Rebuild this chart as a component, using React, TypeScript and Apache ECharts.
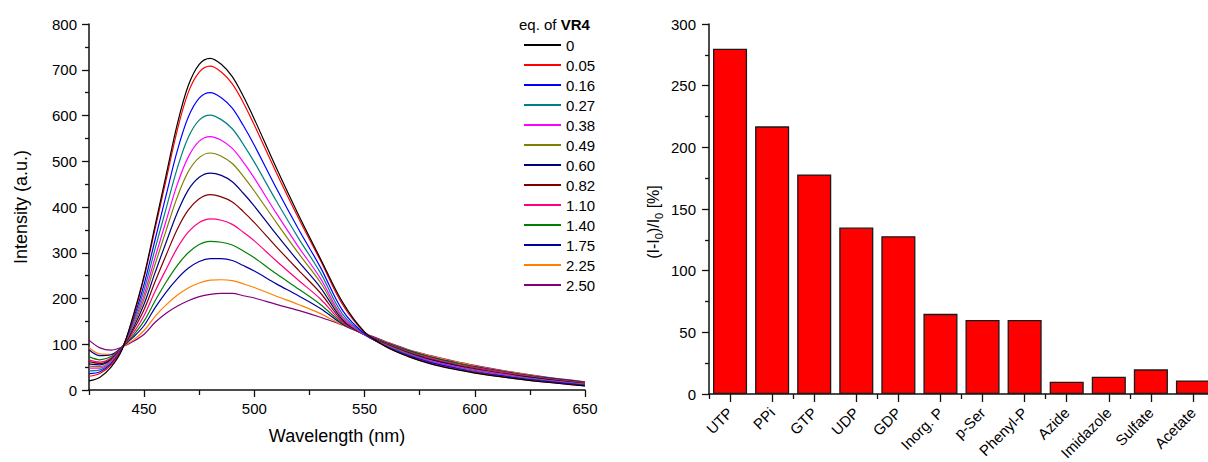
import React, { useEffect, useRef } from 'react';
import * as echarts from 'echarts';

// ---------- Left panel: emission spectra ----------
const wavelengths = [425, 430, 435, 440, 445, 450, 455, 460, 465, 470, 475, 480, 485, 490, 495, 500, 510, 520, 530, 540, 550, 560, 570, 580, 590, 600, 615, 630, 650];

const eq000 = [20, 28, 50, 88, 162, 250, 360, 470, 580, 665, 712, 725, 712, 685, 642, 592, 485, 383, 287, 192, 127, 94, 73, 57, 46, 37, 27, 18, 9];
const eq005 = [30, 36, 55, 90, 158, 246, 353, 460, 567, 650, 695, 708, 695, 669, 628, 579, 475, 376, 283, 187, 126, 94, 73, 58, 47, 38, 27, 18, 9];
const eq016 = [36, 40, 57, 91, 154, 231, 329, 426, 522, 596, 638, 650, 639, 616, 578, 535, 441, 352, 268, 174, 123, 95, 75, 60, 49, 39, 29, 20, 10];
const eq027 = [42, 44, 59, 91, 148, 219, 309, 397, 484, 552, 590, 601, 591, 571, 537, 498, 413, 332, 256, 166, 122, 96, 77, 61, 50, 41, 30, 21, 11];
const eq038 = [48, 48, 62, 92, 144, 208, 290, 370, 449, 509, 544, 554, 546, 528, 498, 463, 386, 313, 244, 160, 121, 97, 78, 63, 52, 43, 32, 22, 12];
const eq049 = [52, 51, 64, 92, 140, 199, 275, 349, 421, 477, 508, 518, 511, 495, 467, 435, 366, 299, 235, 157, 121, 98, 79, 64, 53, 44, 33, 23, 13];
const eq060 = [57, 55, 66, 93, 135, 188, 257, 323, 387, 437, 465, 474, 469, 455, 430, 402, 340, 281, 224, 154, 121, 99, 80, 66, 55, 45, 34, 24, 13];
const eq082 = [62, 58, 68, 93, 130, 176, 237, 295, 351, 393, 418, 427, 422, 411, 390, 366, 313, 262, 212, 151, 121, 100, 82, 67, 56, 47, 35, 25, 14];
const eq110 = [66, 61, 70, 93, 124, 163, 216, 264, 310, 345, 366, 374, 371, 362, 345, 326, 282, 240, 199, 148, 121, 101, 83, 69, 58, 49, 37, 26, 15];
const eq140 = [73, 66, 73, 94, 119, 151, 195, 236, 272, 300, 318, 325, 323, 317, 304, 289, 254, 221, 187, 146, 121, 102, 85, 71, 60, 50, 38, 27, 16];
const eq175 = [88, 75, 77, 94, 115, 141, 180, 214, 243, 266, 281, 287, 287, 283, 272, 260, 232, 206, 178, 144, 122, 103, 86, 72, 61, 51, 39, 28, 17];
const eq225 = [93, 79, 78, 94, 109, 130, 161, 186, 207, 223, 234, 240, 241, 239, 232, 224, 205, 187, 167, 142, 122, 104, 87, 74, 63, 53, 40, 29, 17];
const eq250 = [109, 92, 87, 94, 106, 122, 148, 168, 183, 195, 204, 209, 211, 211, 206, 201, 187, 174, 159, 142, 124, 105, 88, 75, 64, 54, 41, 30, 18];

const spectra = [eq000, eq005, eq016, eq027, eq038, eq049, eq060, eq082, eq110, eq140, eq175, eq225, eq250];
const spectraNames = ['0', '0.05', '0.16', '0.27', '0.38', '0.49', '0.60', '0.82', '1.10', '1.40', '1.75', '2.25', '2.50'];
const spectraColors = ['#000000', '#FF0000', '#0000FF', '#008080', '#FF00FF', '#808000', '#000080', '#800000', '#FF0080', '#008000', '#0000A0', '#FF8000', '#800080'];

const xMajorTicks = [450, 500, 550, 600, 650];
const xMinorTicks = [425, 475, 525, 575, 625];

// ---------- Right panel: selectivity bars ----------
const analytes = ['UTP', 'PPi', 'GTP', 'UDP', 'GDP', 'Inorg. P', 'p-Ser', 'Phenyl-P', 'Azide', 'Imidazole', 'Sulfate', 'Acetate'];
const responses = [280, 217, 178, 135, 128, 65, 60, 60, 10, 14, 20, 11];

const FONT = 'Liberation Sans, Arial, sans-serif';
const AX = '#111111';

export default function App() {
  const ref = useRef<HTMLDivElement>(null);

  useEffect(() => {
    if (!ref.current) return;
    const chart = echarts.init(ref.current, undefined, { renderer: 'svg' });

    const lineSeries = spectra.map((vals, i) => ({
      name: spectraNames[i],
      type: 'line',
      xAxisIndex: 0,
      yAxisIndex: 0,
      data: wavelengths.map((w, j) => [w, vals[j]]),
      symbol: 'none',
      smooth: 0.35,
      color: spectraColors[i],
      lineStyle: { width: 1.2, color: spectraColors[i] },
      z: 20 - i,
    }));

    const axisLine = { show: true, lineStyle: { color: AX, width: 1.5 } };

    chart.setOption({
      animation: false,
      textStyle: { fontFamily: FONT },
      grid: [
        { left: 89, top: 24, width: 496, height: 366, outerBoundsMode: 'none', containLabel: false },
        { left: 709, top: 24, width: 505, height: 370, outerBoundsMode: 'none', containLabel: false },
      ],
      graphic: [
        {
          type: 'text',
          left: 519,
          top: 17,
          style: {
            text: '{a|eq. of }{b|VR4}',
            rich: {
              a: { fontSize: 15, fontFamily: FONT, fill: '#000' },
              b: { fontSize: 15, fontFamily: FONT, fontWeight: 'bold', fill: '#000' },
            },
          },
        },
        {
          type: 'text',
          x: 651,
          y: 222,
          rotation: Math.PI / 2,
          style: {
            text: '{n|(I-I}{s|0}{n|)/I}{s|0}{n| [%]}',
            align: 'center',
            verticalAlign: 'middle',
            rich: {
              n: { fontSize: 16, fontFamily: FONT, fill: '#000', lineHeight: 20, verticalAlign: 'bottom' },
              s: { fontSize: 11, fontFamily: FONT, fill: '#000', lineHeight: 20, verticalAlign: 'bottom', padding: [0, 0, -3, 0] },
            },
          },
        },
      ],
      legend: {
        data: spectraNames,
        orient: 'vertical',
        left: 519,
        top: 30,
        icon: 'rect',
        itemWidth: 37,
        itemHeight: 2,
        itemGap: 0,
        selectedMode: false,
        textStyle: { fontSize: 15, fontFamily: FONT, color: '#000', lineHeight: 20 },
      },
      xAxis: [
        {
          type: 'value',
          gridIndex: 0,
          position: 'bottom',
          min: 425,
          max: 650,
          name: 'Wavelength (nm)',
          nameLocation: 'middle',
          nameGap: 37,
          nameTextStyle: { fontSize: 18, color: '#000', fontFamily: FONT },
          axisLine,
          axisTick: { show: true, customValues: xMajorTicks, length: 7, lineStyle: { color: AX, width: 1.3 } },
          axisLabel: { customValues: xMajorTicks, fontSize: 15, color: '#000', margin: 11 },
          splitLine: { show: false },
        },
        {
          type: 'value',
          gridIndex: 0,
          position: 'bottom',
          min: 425,
          max: 650,
          axisLine: { show: false },
          axisTick: { show: true, customValues: xMinorTicks, length: 5, lineStyle: { color: AX, width: 1.3 } },
          axisLabel: { show: false },
          splitLine: { show: false },
        },
        {
          type: 'category',
          gridIndex: 1,
          position: 'bottom',
          data: analytes,
          axisLine,
          axisTick: { show: true, alignWithLabel: true, length: 8, lineStyle: { color: AX, width: 1.3 } },
          axisLabel: { rotate: 45, fontSize: 15, color: '#000', margin: 16, interval: 0 },
          splitLine: { show: false },
        },
        {
          type: 'category',
          gridIndex: 1,
          position: 'bottom',
          data: analytes,
          axisLine: { show: false },
          axisTick: { show: true, alignWithLabel: false, length: 5, lineStyle: { color: AX, width: 1.3 } },
          axisLabel: { show: false },
          splitLine: { show: false },
        },
      ],
      yAxis: [
        {
          type: 'value',
          gridIndex: 0,
          min: 0,
          max: 800,
          interval: 100,
          name: 'Intensity (a.u.)',
          nameLocation: 'middle',
          nameGap: 59,
          nameTextStyle: { fontSize: 18, color: '#000', fontFamily: FONT },
          axisLine,
          axisTick: { show: true, length: 7, lineStyle: { color: AX, width: 1.3 } },
          minorTick: { show: true, splitNumber: 2, length: 4, lineStyle: { color: AX, width: 1.3 } },
          axisLabel: { fontSize: 15, color: '#000', margin: 12 },
          splitLine: { show: false },
          minorSplitLine: { show: false },
        },
        {
          type: 'value',
          gridIndex: 1,
          min: 0,
          max: 300,
          interval: 50,
          axisLine,
          axisTick: { show: true, length: 7, lineStyle: { color: AX, width: 1.3 } },
          minorTick: { show: true, splitNumber: 2, length: 4, lineStyle: { color: AX, width: 1.3 } },
          axisLabel: { fontSize: 15, color: '#000', margin: 13 },
          splitLine: { show: false },
          minorSplitLine: { show: false },
        },
      ],
      series: [
        ...lineSeries,
        {
          type: 'bar',
          xAxisIndex: 2,
          yAxisIndex: 1,
          data: responses,
          barCategoryGap: '19%',
          itemStyle: { color: '#FF0000', borderColor: '#1a1a1a', borderWidth: 1.3 },
        },
      ],
    });

    return () => chart.dispose();
  }, []);

  return (
    <div
      ref={ref}
      style={{ position: 'fixed', left: 0, top: 0, width: 1208, height: 462, background: '#fff' }}
    />
  );
}
